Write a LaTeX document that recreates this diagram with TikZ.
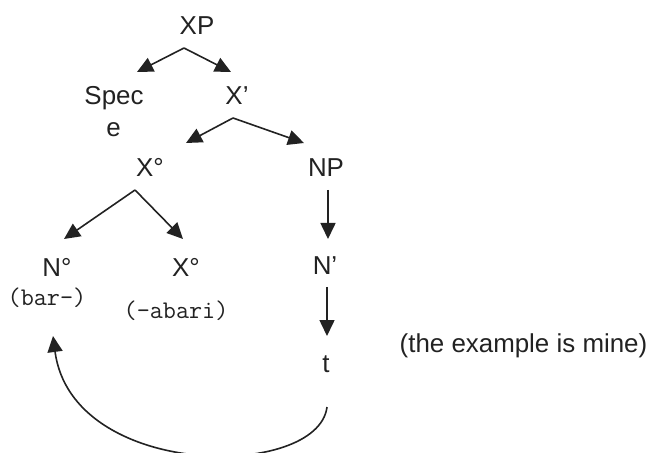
\documentclass[tikz,border=0pt]{standalone}
\usepackage{fontspec}
\setmainfont{Liberation Sans}
\usetikzlibrary{arrows.meta}
\definecolor{ink}{HTML}{222222}
\begin{document}
\begin{tikzpicture}[x=1bp,y=-1bp,
  lab/.style={anchor=base,inner sep=0pt,text=ink,font=\fontsize{26}{30}\selectfont},
  mono/.style={anchor=base,inner sep=0pt,text=ink,font=\fontsize{25.5}{30}\selectfont\ttfamily},
  arr/.style={draw=ink,line width=1.6bp,-{Triangle[length=16bp,width=15bp]}}]
\useasboundingbox (0,0) rectangle (651,453);
% nodes
\node[lab] (XP) at (197,35) {XP};
\node[lab] (Spec) at (114,105) {Spec};
\node[lab] (SpecE) at (113.5,137) {e};
\node[lab] (Xbar) at (237,105) {X’};
\node[lab] (X0) at (150,177) {X°};
\node[lab] (NP) at (326,177) {NP};
\node[lab] (N0) at (57,277) {N°};
\node[lab] (X0b) at (186,277) {X°};
\node[lab] (Nbar) at (325,275) {N’};
\node[mono] (bar) at (47,306) {(bar-)};
\node[mono] (abari) at (176,319) {(-abari)};
\node[lab] (t) at (326,372) {t};
\node[lab] (note) at (523.5,352) {(the example is mine)};
% connector end points
\coordinate (XPb) at (184,48);
\coordinate (SpecT) at (137,72);
\coordinate (XbarT) at (231,72);
\coordinate (Xbarb) at (233,118);
\coordinate (X0T) at (186,143);
\coordinate (NPT) at (304,143);
\coordinate (X0bot) at (135,190);
\coordinate (N0T) at (64,239);
\coordinate (X0bT) at (183,239);
\coordinate (NPb) at (328,190);
\coordinate (NbarT) at (328,239);
\coordinate (Nbarb) at (327,287);
\coordinate (tT) at (327,336);
\coordinate (tb) at (327,407);
\coordinate (barT) at (53,336);
% connectors
\draw[arr] (XPb) -- (SpecT);
\draw[arr] (XPb) -- (XbarT);
\draw[arr] (Xbarb) -- (X0T);
\draw[arr] (Xbarb) -- (NPT);
\draw[arr] (X0bot) -- (N0T);
\draw[arr] (X0bot) -- (X0bT);
\draw[arr] (NPb) -- (NbarT);
\draw[arr] (Nbarb) -- (tT);
\draw[arr] (tb) .. controls (318,480) and (72,480) .. (barT);
\end{tikzpicture}
\end{document}
